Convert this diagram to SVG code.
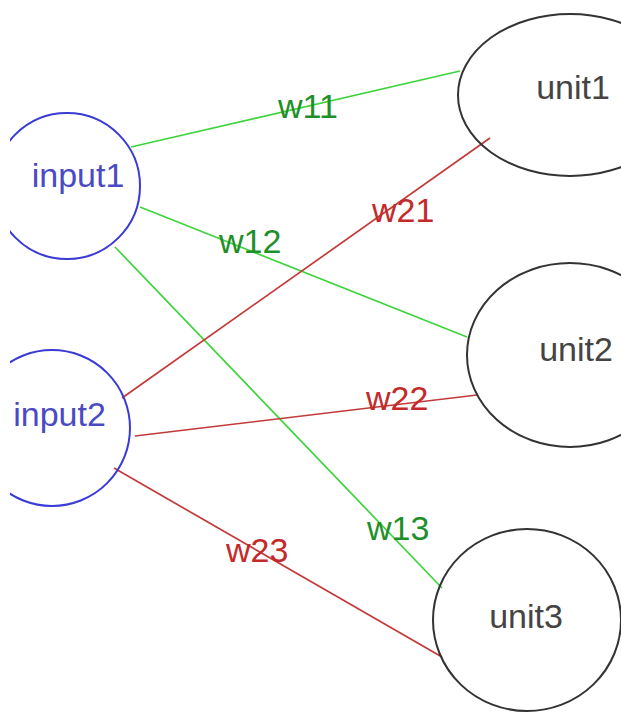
<svg xmlns="http://www.w3.org/2000/svg" width="621" height="715" viewBox="0 0 621 715">
  <style>
    .in { fill: none; stroke: #3a3ad6; stroke-width: 2; }
    .unit { fill: none; stroke: #333; stroke-width: 2; }
    .lbl { font-family: "Liberation Sans", Arial, sans-serif; font-size: 34px; }
    .in-t { fill: #4a4ac4; }
    .unit-t { fill: #444; }
    .g { stroke: #3ed43e; stroke-width: 1.7; fill: none; }
    .r { stroke: #c23a3a; stroke-width: 1.7; fill: none; }
    .gt { fill: #1f8f2a; }
    .rt { fill: #c42a2a; }
  </style>
  <defs>
    <clipPath id="leftcut">
      <rect x="10" y="0" width="611" height="715"/>
    </clipPath>
  </defs>
  <rect width="621" height="715" fill="#fff"/>

  <!-- weighted connections -->
  <g id="edges">
    <line class="g" x1="131" y1="147" x2="460" y2="71"/>
    <line class="g" x1="140" y1="207" x2="467" y2="337"/>
    <line class="g" x1="115" y1="247" x2="442" y2="588"/>
    <line class="r" x1="122" y1="398" x2="490" y2="138"/>
    <line class="r" x1="135" y1="436" x2="477" y2="395"/>
    <line class="r" x1="114" y1="468" x2="442" y2="657"/>
    <text class="lbl gt" x="278" y="118">w11</text>
    <text class="lbl gt" x="219" y="253">w12</text>
    <text class="lbl gt" x="367" y="540">w13</text>
    <text class="lbl rt" x="372" y="222">w21</text>
    <text class="lbl rt" x="366" y="410">w22</text>
    <text class="lbl rt" x="226" y="562">w23</text>
  </g>

  <g id="input1">
    <circle class="in" cx="67" cy="186" r="73" clip-path="url(#leftcut)"/>
    <text class="lbl in-t" x="78" y="187" text-anchor="middle">input1</text>
  </g>
  <g id="input2">
    <circle class="in" cx="52" cy="428" r="78" clip-path="url(#leftcut)"/>
    <text class="lbl in-t" x="59.5" y="426" text-anchor="middle">input2</text>
  </g>
  <g id="unit1">
    <ellipse class="unit" cx="570" cy="95" rx="112" ry="81"/>
    <text class="lbl unit-t" x="573" y="99" text-anchor="middle">unit1</text>
  </g>
  <g id="unit2">
    <ellipse class="unit" cx="570" cy="355" rx="103" ry="92"/>
    <text class="lbl unit-t" x="576" y="361" text-anchor="middle">unit2</text>
  </g>
  <g id="unit3">
    <ellipse class="unit" cx="527" cy="620" rx="94" ry="91"/>
    <text class="lbl unit-t" x="526" y="628" text-anchor="middle">unit3</text>
  </g>
</svg>
